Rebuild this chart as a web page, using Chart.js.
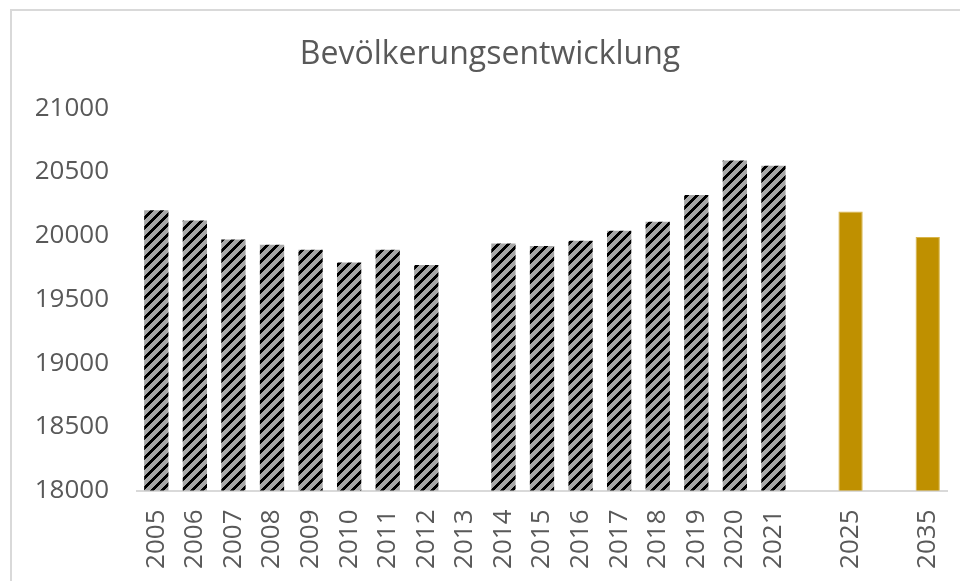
<!DOCTYPE html>
<html lang="de">
<head>
<meta charset="utf-8">
<title>Bevölkerungsentwicklung</title>
<script src="https://cdn.jsdelivr.net/npm/chart.js@4.4.1/dist/chart.umd.min.js"></script>
<style>
  html, body { margin: 0; padding: 0; background: #fff; overflow: hidden; }
  /* heller Diagrammrahmen, rechts und unten abgeschnitten */
  #rahmen { position: absolute; left: 10px; top: 9px; width: 960px; height: 600px;
            border-left: 2px solid #d9d9d9; border-top: 2px solid #d9d9d9; }
  #myChart { position: absolute; left: 0; top: 0; }
</style>
</head>
<body>
<div id="rahmen"></div>
<canvas id="myChart" width="960" height="581"></canvas>
<script>
// Jahre auf der X-Achse ("" = leere Lücke)
const jahre = ["2005", "2006", "2007", "2008", "2009", "2010", "2011", "2012", "2013",
    "2014", "2015", "2016", "2017", "2018", "2019", "2020", "2021", "", "2025", "", "2035"];

// Einwohner (Ist-Werte), 2013 ohne Wert
const einwohner = [20200, 20120, 19970, 19930, 19890, 19790, 19890, 19770, null,
    19940, 19920, 19960, 20040, 20110, 20320, 20590, 20550, null, null, null, null];

// Prognose
const prognose = [null, null, null, null, null, null, null, null, null,
    null, null, null, null, null, null, null, null, null, 20190, null, 19990];

// Y-Achse
const yMin = 18000;
const yMax = 21000;
const yStep = 500;

const grau = "#595959";
const schrift = "'Open Sans', 'Noto Sans', sans-serif";

// Schraffur wie in Excel (breite Diagonale nach oben)
function schraffur() {
    const size = 10;
    const c = document.createElement("canvas");
    c.width = size;
    c.height = size;
    const g = c.getContext("2d");
    g.fillStyle = "#a6a6a6";
    g.fillRect(0, 0, size, size);
    g.fillStyle = "#000000";
    for (let x = 0; x < size; x++) {
        for (let y = 0; y < size; y++) {
            if ((x + y) % size < 4) g.fillRect(x, y, 1, 1);
        }
    }
    return g.createPattern(c, "repeat");
}

const ctx = document.getElementById("myChart").getContext("2d");

const myChart = new Chart(ctx, {
    type: "bar",
    data: {
        labels: jahre,
        datasets: [
            {
                label: "Einwohner",
                data: einwohner,
                backgroundColor: schraffur(),
                borderWidth: 0,
            },
            {
                label: "Prognose",
                data: prognose,
                backgroundColor: "#bf9000",
                borderColor: "#d9b54a",
                borderWidth: 1,
            },
        ],
    },
    options: {
        responsive: false,
        animation: false,
        // links etwas mehr Rand, damit der Titel wie im Original leicht rechts sitzt
        layout: { padding: { left: 33, right: 13, top: 0, bottom: 0 } },
        datasets: {
            bar: { categoryPercentage: 1, barPercentage: 0.63, skipNull: true },
        },
        plugins: {
            legend: { display: false },
            tooltip: { enabled: false },
            title: {
                display: true,
                text: "Bevölkerungsentwicklung",
                color: grau,
                font: { family: schrift, size: 32, weight: "normal" },
                padding: { top: 36, bottom: 34 },
            },
        },
        scales: {
            x: {
                stacked: true,
                grid: { display: false, drawTicks: false },
                border: { display: true, color: "#d9d9d9", width: 2 },
                ticks: {
                    color: grau,
                    font: { family: schrift, size: 26 },
                    minRotation: 90,
                    maxRotation: 90,
                    autoSkip: false,
                    padding: 19,
                },
                afterFit(scale) {
                    scale.height = 90.5;
                    scale.paddingLeft = 0;
                    scale.paddingRight = 0;
                },
            },
            y: {
                min: yMin,
                max: yMax,
                grid: { display: false, drawTicks: false },
                border: { display: false },
                ticks: {
                    stepSize: yStep,
                    color: grau,
                    font: { family: schrift, size: 26 },
                    padding: 28,
                    callback: (v) => String(v),
                },
                afterFit(scale) {
                    scale.width = 104;
                },
            },
        },
    },
});
</script>
</body>
</html>
